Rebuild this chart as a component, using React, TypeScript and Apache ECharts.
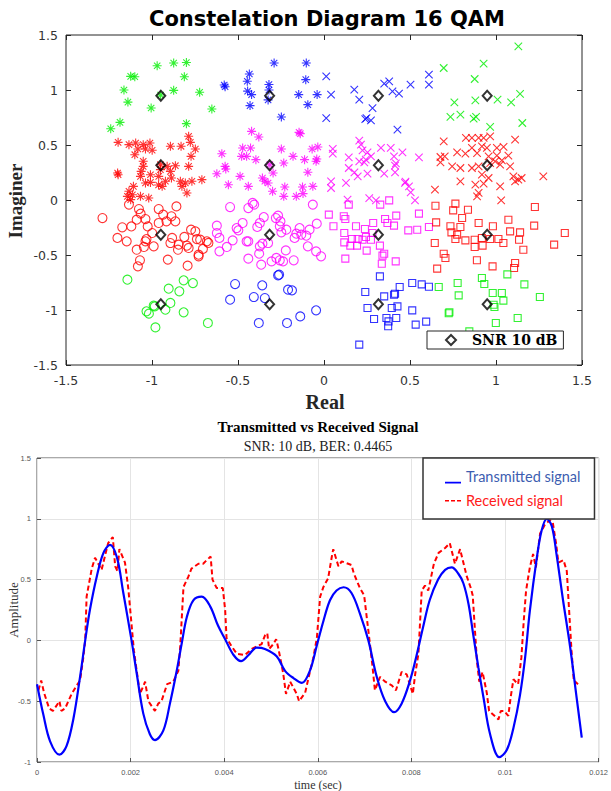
import React, { useEffect, useRef } from 'react';
import * as echarts from 'echarts';

// ---------- Constellation data (Real, Imaginary) ----------
const greenStar = [[-0.97,1.22],[-0.874,1.245],[-0.8,1.25],[-1.124,1.124],[-1.1,1.12],[-0.812,1.12],[-1.163,1.0],[-0.874,0.997],[-0.723,0.98],[-0.95,0.955],[-1.14,0.89],[-1.005,0.836],[-0.652,0.827],[-1.24,0.648],[-1.186,0.706],[-0.8,0.694]];
const blueStar = [[-0.29,1.245],[-0.103,1.245],[-0.434,1.145],[-0.58,1.045],[-0.575,1.03],[-0.446,1.08],[-0.444,0.99],[-0.421,0.958],[-0.32,1.05],[-0.32,1.0],[-0.325,0.91],[-0.106,1.094],[-0.147,0.958],[-0.04,0.958],[-0.094,0.867],[-0.43,0.858],[-0.248,0.755]];
const redStar = [[-1.197,0.524],[-1.134,0.503],[-1.095,0.518],[-1.051,0.503],[-1.012,0.518],[-1.082,0.464],[-1.038,0.464],[-0.999,0.452],[-1.1,0.412],[-0.893,0.488],[-0.831,0.488],[-0.787,0.579],[-0.777,0.524],[-0.748,0.464],[-0.773,0.397],[-1.051,0.352],[-1.051,0.306],[-0.951,0.321],[-0.912,0.306],[-0.864,0.312],[-0.787,0.306],[-1.2,0.245],[-1.197,0.23],[-1.063,0.26],[-1.067,0.215],[-1.009,0.23],[-0.961,0.215],[-0.951,0.276],[-0.893,0.26],[-0.922,0.17],[-0.941,0.124],[-1.038,0.155],[-1.009,0.16],[-0.835,0.17],[-0.806,0.155],[-0.768,0.17],[-0.71,0.185],[-0.826,0.124],[-0.797,0.064],[-1.134,0.079],[-1.143,0.033],[-1.114,0.048],[-1.067,0.033],[-1.019,0.018],[-1.124,0.003],[-1.108,0.124],[-0.962,0.136],[-0.887,0.2]];
const magentaStar = [[-0.421,0.624],[-0.379,0.573],[-0.145,0.615],[-0.138,0.603],[-0.594,0.421],[-0.473,0.473],[-0.427,0.473],[-0.479,0.397],[-0.45,0.397],[-0.396,0.367],[-0.248,0.464],[-0.18,0.397],[-0.113,0.367],[-0.069,0.464],[-0.036,0.482],[-0.042,0.373],[-0.046,0.352],[-0.575,0.306],[-0.571,0.282],[-0.623,0.239],[-0.488,0.215],[-0.315,0.321],[-0.296,0.245],[-0.358,0.2],[-0.344,0.17],[-0.325,0.155],[-0.234,0.336],[-0.094,0.252],[-0.556,0.139],[-0.44,0.124],[-0.299,0.079],[-0.234,0.033],[-0.228,0.118],[-0.161,0.033],[-0.125,0.118],[-0.065,0.124],[-0.122,0.058]];
const blueX = [[0.013,1.124],[0.041,0.958],[0.013,0.745],[0.176,1.003],[0.205,0.912],[0.282,0.836],[0.24,0.736],[0.247,0.745],[0.273,0.724],[0.35,1.058],[0.379,1.079],[0.398,0.988],[0.436,0.967],[0.503,1.048],[0.61,1.139],[0.61,1.048],[0.427,0.639]];
const greenX = [[1.13,1.397],[0.928,1.24],[0.876,1.1],[0.696,1.2],[0.758,0.888],[0.88,0.906],[1.009,0.912],[1.088,0.888],[1.14,0.964],[0.735,0.755],[0.793,0.776],[0.87,0.739],[0.884,0.755],[0.966,0.664],[1.153,0.7]];
const magentaX = [[0.051,0.464],[0.051,0.421],[0.144,0.388],[0.205,0.539],[0.215,0.503],[0.224,0.452],[0.253,0.433],[0.273,0.397],[0.331,0.473],[0.388,0.473],[0.456,0.433],[0.407,0.397],[0.552,0.388],[0.205,0.352],[0.234,0.342],[0.243,0.367],[0.144,0.291],[0.177,0.252],[0.196,0.215],[0.253,0.239],[0.35,0.239],[0.413,0.312],[0.413,0.252],[0.128,0.155],[0.041,0.17],[0.041,0.109],[0.471,0.155],[0.494,0.124],[0.504,0.07],[0.529,-0.003],[0.137,0.003],[0.263,0.018],[0.302,-0.003],[0.474,0.167],[0.418,0.333]];
const redX = [[0.696,0.533],[0.825,0.564],[0.86,0.564],[0.899,0.564],[0.928,0.564],[0.966,0.579],[1.111,0.548],[0.86,0.473],[0.918,0.488],[0.947,0.473],[1.005,0.473],[1.044,0.482],[0.774,0.433],[0.822,0.421],[0.677,0.391],[0.702,0.397],[0.677,0.342],[0.89,0.427],[0.957,0.397],[1.005,0.403],[1.072,0.403],[0.745,0.306],[0.793,0.291],[0.86,0.291],[0.899,0.306],[0.966,0.336],[0.995,0.352],[1.034,0.361],[1.024,0.321],[1.082,0.306],[0.918,0.23],[0.957,0.2],[0.793,0.17],[0.88,0.139],[0.928,0.148],[1.101,0.215],[1.111,0.17],[1.13,0.185],[1.149,0.2],[1.024,0.124],[1.275,0.215],[0.645,0.094],[0.899,0.064],[0.89,0.033],[1.03,-0.003]];
const redCircle = [[-1.288,-0.164],[-1.134,-0.042],[-1.076,-0.082],[-1.066,-0.124],[-1.089,-0.179],[-1.038,-0.173],[-1.025,-0.24],[-1.173,-0.248],[-1.12,-0.24],[-0.961,-0.082],[-0.935,-0.133],[-0.916,-0.194],[-0.961,-0.209],[-0.887,-0.148],[-0.864,-0.194],[-0.858,-0.058],[-1.201,-0.345],[-1.147,-0.376],[-1.089,-0.452],[-1.038,-0.376],[-1.047,-0.427],[-0.99,-0.421],[-0.893,-0.391],[-0.845,-0.406],[-0.883,-0.345],[-0.849,-0.452],[-0.797,-0.415],[-0.787,-0.436],[-0.812,-0.336],[-0.773,-0.27],[-0.748,-0.285],[-0.739,-0.355],[-0.72,-0.361],[-0.704,-0.445],[-0.729,-0.512],[-0.729,-0.497],[-0.681,-0.376],[-0.672,-0.39],[-0.908,-0.542],[-1.07,-0.548],[-1.082,-0.603],[-0.793,-0.597],[-0.999,-0.3],[-1.032,-0.355]];
const greenCircle = [[-1.143,-0.724],[-0.816,-0.73],[-0.762,-0.755],[-0.903,-0.806],[-0.841,-0.83],[-0.893,-0.936],[-0.984,-0.967],[-1.032,-1.012],[-1.018,-1.033],[-0.922,-0.997],[-0.816,-1.021],[-0.675,-1.118],[-0.98,-1.158],[-0.99,-0.96]];
const magentaCircle = [[-0.546,-0.064],[-0.44,-0.073],[-0.415,-0.027],[-0.406,-0.042],[-0.28,-0.164],[-0.35,-0.155],[-0.267,-0.142],[-0.253,-0.194],[-0.373,-0.209],[-0.388,-0.245],[-0.473,-0.209],[-0.508,-0.255],[-0.498,-0.276],[-0.623,-0.233],[-0.623,-0.3],[-0.608,-0.345],[-0.531,-0.367],[-0.45,-0.376],[-0.44,-0.376],[-0.565,-0.427],[-0.608,-0.467],[-0.358,-0.397],[-0.325,-0.391],[-0.373,-0.421],[-0.257,-0.239],[-0.248,-0.294],[-0.219,-0.27],[-0.222,-0.458],[-0.277,-0.527],[-0.257,-0.548],[-0.238,-0.558],[-0.305,-0.558],[-0.377,-0.488],[-0.44,-0.533],[-0.365,-0.588],[-0.176,-0.548],[-0.142,-0.255],[-0.132,-0.315],[-0.103,-0.324],[-0.084,-0.27],[-0.065,-0.042],[-0.042,-0.215],[-0.094,-0.421],[-0.046,-0.467],[-0.017,-0.512],[-0.171,-0.345],[-0.161,-0.306]];
const blueCircle = [[-0.517,-0.764],[-0.359,-0.776],[-0.267,-0.685],[-0.261,-0.679],[-0.209,-0.815],[-0.186,-0.821],[-0.546,-0.906],[-0.408,-0.882],[-0.344,-0.891],[-0.379,-1.118],[-0.215,-1.118],[-0.138,-1.058],[-0.046,-1.003]];
const magentaSquare = [[0.144,-0.042],[0.327,-0.042],[0.379,-0.003],[0.028,-0.133],[0.115,-0.148],[0.124,-0.173],[0.055,-0.239],[0.186,-0.239],[0.238,-0.264],[0.286,-0.209],[0.355,-0.173],[0.369,-0.209],[0.407,-0.233],[0.42,-0.142],[0.552,-0.124],[0.49,-0.276],[0.542,-0.27],[0.61,-0.245],[0.118,-0.3],[0.118,-0.385],[0.163,-0.355],[0.196,-0.355],[0.224,-0.361],[0.244,-0.336],[0.273,-0.361],[0.153,-0.415],[0.192,-0.415],[0.248,-0.46],[0.325,-0.415],[0.282,-0.3],[0.35,-0.488],[0.34,-0.506],[0.417,-0.558],[0.336,-0.579],[0.124,-0.533]];
const redSquare = [[0.648,-0.052],[0.764,-0.033],[0.837,-0.088],[0.751,-0.094],[0.803,-0.164],[0.652,-0.203],[0.735,-0.239],[0.793,-0.245],[0.899,-0.209],[0.982,-0.239],[1.072,-0.179],[1.226,-0.064],[1.222,-0.233],[0.741,-0.294],[0.774,-0.315],[0.764,-0.355],[0.822,-0.367],[0.876,-0.361],[0.918,-0.345],[0.966,-0.355],[1.014,-0.355],[1.082,-0.285],[1.14,-0.294],[1.134,-0.361],[1.043,-0.391],[0.876,-0.427],[0.922,-0.415],[1.159,-0.452],[1.4,-0.3],[1.338,-0.406],[0.644,-0.391],[0.696,-0.488],[0.706,-0.527],[0.889,-0.548],[0.98,-0.603],[0.658,-0.624],[1.111,-0.573],[1.105,-0.618]];
const blueSquare = [[0.325,-0.694],[0.24,-0.836],[0.35,-0.876],[0.407,-0.861],[0.413,-0.852],[0.44,-0.791],[0.513,-0.755],[0.568,-0.767],[0.61,-0.788],[0.253,-0.982],[0.394,-0.982],[0.427,-0.967],[0.513,-1.003],[0.291,-1.082],[0.363,-1.073],[0.375,-1.103],[0.42,-1.073],[0.373,-1.148],[0.533,-1.133],[0.594,-1.106],[0.205,-1.315]];
const greenSquare = [[0.667,-0.791],[0.777,-0.755],[0.918,-0.709],[0.932,-0.764],[1.066,-0.676],[1.165,-0.767],[0.783,-0.867],[0.981,-0.845],[1.034,-0.845],[1.043,-0.915],[1.255,-0.882],[0.986,-0.952],[0.991,-0.973],[0.729,-1.021],[0.725,-1.03],[0.999,-1.118],[1.126,-1.073],[0.845,-1.194]];
const idealPoints = [[-0.9487,0.9487],[-0.3162,0.9487],[0.3162,0.9487],[0.9487,0.9487],[-0.9487,0.3162],[-0.3162,0.3162],[0.3162,0.3162],[0.9487,0.3162],[-0.9487,-0.3162],[-0.3162,-0.3162],[0.3162,-0.3162],[0.9487,-0.3162],[-0.9487,-0.9487],[-0.3162,-0.9487],[0.3162,-0.9487],[0.9487,-0.9487]];

// ---------- Signal data (time in sec, amplitude) ----------
const transmittedSignal = [[0,-0.36],[0.000135,-0.61],[0.00028,-0.83],[0.00048,-0.94],[0.00063,-0.87],[0.00078,-0.64],[0.00092,-0.3],[0.00103,0.0],[0.00113,0.25],[0.00128,0.53],[0.00142,0.72],[0.00156,0.786],[0.00171,0.68],[0.00184,0.4],[0.00202,0.0],[0.00213,-0.27],[0.00227,-0.6],[0.00241,-0.77],[0.00252,-0.82],[0.0027,-0.74],[0.00284,-0.52],[0.00298,-0.26],[0.00309,-0.03],[0.0032,0.19],[0.00334,0.33],[0.00352,0.36],[0.0037,0.28],[0.00387,0.12],[0.00402,0.01],[0.0042,-0.12],[0.00436,-0.17],[0.00452,-0.12],[0.00469,-0.06],[0.00487,-0.07],[0.00512,-0.13],[0.0053,-0.25],[0.00548,-0.31],[0.00566,-0.35],[0.00583,-0.25],[0.00598,-0.04],[0.00612,0.16],[0.00626,0.33],[0.0064,0.41],[0.00655,0.437],[0.00672,0.39],[0.0069,0.22],[0.00708,0.0],[0.00726,-0.3],[0.00744,-0.5],[0.00763,-0.59],[0.00779,-0.52],[0.00797,-0.33],[0.0081,-0.14],[0.00825,0.11],[0.00839,0.33],[0.00857,0.5],[0.00872,0.58],[0.00886,0.6],[0.009,0.55],[0.00911,0.47],[0.00922,0.3],[0.00932,0.05],[0.00943,-0.22],[0.00954,-0.47],[0.00968,-0.77],[0.00988,-0.96],[0.01004,-0.9],[0.01018,-0.72],[0.01032,-0.45],[0.01043,-0.14],[0.01053,0.24],[0.01068,0.68],[0.01078,0.9],[0.01089,1.0],[0.011,0.94],[0.0111,0.71],[0.01124,0.33],[0.01139,-0.05],[0.01153,-0.47],[0.01164,-0.8]];
const receivedSignal = [[0.00003,-0.41],[0.00009,-0.33],[0.00015,-0.43],[0.00026,-0.56],[0.00034,-0.58],[0.00048,-0.5],[0.00052,-0.58],[0.0006,-0.56],[0.00074,-0.44],[0.00085,-0.37],[0.00092,-0.33],[0.00099,-0.14],[0.00103,0.0],[0.00106,0.36],[0.00117,0.59],[0.00124,0.68],[0.00138,0.58],[0.00145,0.69],[0.00152,0.8],[0.00162,0.85],[0.00167,0.61],[0.00172,0.57],[0.00176,0.75],[0.00188,0.64],[0.00195,0.43],[0.00207,-0.08],[0.00213,-0.25],[0.0022,-0.44],[0.00231,-0.34],[0.00238,-0.5],[0.00252,-0.58],[0.00259,-0.52],[0.00266,-0.5],[0.00278,-0.36],[0.00291,-0.34],[0.00302,-0.25],[0.00306,-0.05],[0.00313,0.44],[0.00323,0.52],[0.0033,0.59],[0.00345,0.63],[0.00355,0.63],[0.0036,0.65],[0.00371,0.69],[0.00375,0.5],[0.00384,0.43],[0.00397,0.43],[0.00402,0.25],[0.00405,0.02],[0.00416,-0.05],[0.00427,-0.11],[0.00444,-0.12],[0.00459,-0.07],[0.0048,-0.03],[0.00487,0.04],[0.00492,0.06],[0.00496,-0.07],[0.00505,-0.03],[0.00511,0.01],[0.00516,-0.07],[0.00526,-0.27],[0.00532,-0.44],[0.00541,-0.34],[0.00555,-0.44],[0.0056,-0.5],[0.00573,-0.43],[0.00583,-0.26],[0.0059,-0.15],[0.00598,0.02],[0.00605,0.36],[0.00612,0.44],[0.00622,0.51],[0.0063,0.69],[0.00633,0.75],[0.00644,0.61],[0.00651,0.65],[0.00665,0.63],[0.00672,0.62],[0.00677,0.55],[0.0069,0.43],[0.00699,0.37],[0.00712,-0.05],[0.00717,-0.22],[0.00722,-0.41],[0.00733,-0.3],[0.00744,-0.34],[0.00758,-0.37],[0.00767,-0.41],[0.00779,-0.26],[0.0079,-0.28],[0.00803,-0.44],[0.00808,-0.28],[0.00815,-0.11],[0.00822,0.41],[0.00829,0.45],[0.00836,0.41],[0.00848,0.63],[0.00858,0.72],[0.00872,0.76],[0.00882,0.8],[0.00893,0.63],[0.00904,0.75],[0.00918,0.53],[0.00927,0.43],[0.00931,0.37],[0.0094,-0.17],[0.00945,-0.34],[0.00952,-0.26],[0.00961,-0.43],[0.00966,-0.58],[0.00986,-0.65],[0.00991,-0.58],[0.00998,-0.58],[0.01007,-0.62],[0.01012,-0.47],[0.01018,-0.32],[0.01028,-0.36],[0.01035,-0.14],[0.0104,0.16],[0.01045,0.41],[0.01053,0.6],[0.0106,0.71],[0.01066,0.6],[0.01075,0.88],[0.01085,0.95],[0.01096,0.99],[0.01102,0.97],[0.01109,0.8],[0.01114,0.64],[0.01125,0.66],[0.01132,0.57],[0.01142,-0.08],[0.01147,-0.33],[0.01156,-0.36]];

const STAR = 'path://M5 0L5 10M0 5L10 5M1.46 1.46L8.54 8.54M8.54 1.46L1.46 8.54';
const CROSS = 'path://M0 0L10 10M10 0L0 10';
const LEG_SOLID = 'path://M0 0h0.05v0.05h-0.05zM0 12.2h16v1.8h-16z';
const LEG_DASH = 'path://M0 0h0.05v0.05h-0.05zM0 6.5h4v1.6h-4zM6 6.5h4v1.6h-4zM12 6.5h4v1.6h-4zM15.95 13.95h0.05v0.05h-0.05z';
const RED = '#ff0000', GREEN = '#00ee00', BLUE = '#0000ff', MAGENTA = '#ff00ff';

function sc(name: string, data: number[][], symbol: string, color: string, size: number) {
  return {
    type: 'scatter', name, xAxisIndex: 0, yAxisIndex: 0, data, symbol, symbolSize: size,
    itemStyle: { color: 'rgba(0,0,0,0)', borderColor: color, borderWidth: 1.1, opacity: 0.8 },
    silent: true, z: 2,
  };
}

const tickCommon = { inside: true, length: 5, lineStyle: { color: '#262626', width: 1 } };
const noLine = { show: false, onZero: false };

export default function App() {
  const ref = useRef<HTMLDivElement>(null);
  useEffect(() => {
    const chart = echarts.init(ref.current!, null, { renderer: 'svg' });
    const top = { min: -1.5, max: 1.5, interval: 0.5 };
    chart.setOption({
      animation: false,
      backgroundColor: '#ffffff',
      grid: [
        { left: 66, top: 35, width: 516, height: 330, show: true, borderColor: '#262626', borderWidth: 1, backgroundColor: 'transparent' },
        { left: 37, top: 458, width: 563, height: 304, show: true, borderColor: '#555555', borderWidth: 1, backgroundColor: 'transparent' },
      ],
      xAxis: [
        { gridIndex: 0, type: 'value', ...top, position: 'bottom', axisLine: noLine, axisTick: tickCommon, splitLine: { show: false },
          axisLabel: { color: '#333333', fontSize: 12.5, fontFamily: 'DejaVu Sans', margin: 9 } },
        { gridIndex: 0, type: 'value', ...top, position: 'top', axisLine: noLine, axisTick: tickCommon, splitLine: { show: false }, axisLabel: { show: false } },
        { gridIndex: 1, type: 'value', min: 0, max: 0.012, interval: 0.002, position: 'bottom', axisLine: noLine,
          axisTick: { inside: true, length: 4, lineStyle: { color: '#555555' } }, splitLine: { show: true, lineStyle: { color: '#e4e4e4', width: 1 } },
          axisLabel: { color: '#555555', fontSize: 7.5, fontFamily: 'Liberation Sans', margin: 6 } },
      ],
      yAxis: [
        { gridIndex: 0, type: 'value', ...top, position: 'left', axisLine: noLine, axisTick: tickCommon, splitLine: { show: false },
          axisLabel: { color: '#333333', fontSize: 12.5, fontFamily: 'DejaVu Sans', margin: 8 } },
        { gridIndex: 0, type: 'value', ...top, position: 'right', axisLine: noLine, axisTick: tickCommon, splitLine: { show: false }, axisLabel: { show: false } },
        { gridIndex: 1, type: 'value', min: -1, max: 1.5, interval: 0.5, position: 'left', axisLine: noLine,
          axisTick: { inside: true, length: 4, lineStyle: { color: '#555555' } }, splitLine: { show: true, lineStyle: { color: '#e4e4e4', width: 1 } },
          axisLabel: { color: '#555555', fontSize: 7.5, fontFamily: 'Liberation Sans', margin: 6 } },
      ],
      legend: [
        { data: ['SNR 10 dB'], left: 427, top: 331, orient: 'horizontal', icon: 'diamond', itemWidth: 10, itemHeight: 10,
          padding: [2, 6, 2, 18], backgroundColor: '#ffffff', borderColor: '#262626', borderWidth: 1, borderRadius: 0,
          textStyle: { fontFamily: 'DejaVu Serif', fontWeight: 'bold', fontSize: 14, color: '#000000', padding: [0, 0, 0, 11] } },
        { data: [
            { name: 'Transmitted signal', icon: LEG_SOLID, textStyle: { color: '#3c5db0' } },
            { name: 'Received signal', icon: LEG_DASH, textStyle: { color: '#ff1a1a' } },
          ],
          left: 423, top: 458, orient: 'vertical', itemWidth: 16, itemHeight: 14, itemGap: 9,
          padding: [11, 14, 11, 22], backgroundColor: '#ffffff', borderColor: '#333333', borderWidth: 1.5, borderRadius: 0,
          textStyle: { fontFamily: 'Lato', fontSize: 14.5 } },
      ],
      graphic: [
        { type: 'text', x: 327, y: 19, style: { text: 'Constelation Diagram 16 QAM', fontFamily: 'DejaVu Sans', fontWeight: 'bold', fontSize: 21, fill: '#000', textAlign: 'center', textVerticalAlign: 'middle' } },
        { type: 'text', x: 15, y: 201, rotation: Math.PI / 2, style: { text: 'Imaginer', fontFamily: 'Liberation Serif', fontWeight: 'bold', fontSize: 19, fill: '#262626', textAlign: 'center', textVerticalAlign: 'middle' } },
        { type: 'text', x: 325, y: 402, style: { text: 'Real', fontFamily: 'Liberation Serif', fontWeight: 'bold', fontSize: 20, fill: '#262626', textAlign: 'center', textVerticalAlign: 'middle' } },
        { type: 'text', x: 318, y: 427, style: { text: 'Transmitted vs Received Signal', fontFamily: 'Liberation Serif', fontWeight: 'bold', fontSize: 15, fill: '#000', textAlign: 'center', textVerticalAlign: 'middle' } },
        { type: 'text', x: 318, y: 446, style: { text: 'SNR: 10 dB, BER: 0.4465', fontFamily: 'Liberation Serif', fontSize: 14, fill: '#222', textAlign: 'center', textVerticalAlign: 'middle' } },
        { type: 'text', x: 13, y: 610, rotation: Math.PI / 2, style: { text: 'Amplitude', fontFamily: 'Liberation Serif', fontSize: 13, fill: '#333', textAlign: 'center', textVerticalAlign: 'middle' } },
        { type: 'text', x: 318, y: 785, style: { text: 'time (sec)', fontFamily: 'Liberation Serif', fontSize: 12, fill: '#333', textAlign: 'center', textVerticalAlign: 'middle' } },
      ],
      series: [
        sc('gs', greenStar, STAR, GREEN, 9),
        sc('bs', blueStar, STAR, BLUE, 9),
        sc('rs', redStar, STAR, RED, 9),
        sc('ms', magentaStar, STAR, MAGENTA, 9),
        sc('bx', blueX, CROSS, BLUE, 7.5),
        sc('gx', greenX, CROSS, GREEN, 7.5),
        sc('mx', magentaX, CROSS, MAGENTA, 7.5),
        sc('rx', redX, CROSS, RED, 7.5),
        sc('rc', redCircle, 'circle', RED, 9),
        sc('gc', greenCircle, 'circle', GREEN, 9),
        sc('mc', magentaCircle, 'circle', MAGENTA, 9),
        sc('bc', blueCircle, 'circle', BLUE, 9),
        sc('msq', magentaSquare, 'rect', MAGENTA, 7),
        sc('rsq', redSquare, 'rect', RED, 7),
        sc('bsq', blueSquare, 'rect', BLUE, 7),
        sc('gsq', greenSquare, 'rect', GREEN, 7),
        { type: 'scatter', name: 'SNR 10 dB', xAxisIndex: 0, yAxisIndex: 0, data: idealPoints, symbol: 'diamond', symbolSize: [9, 10],
          itemStyle: { color: 'rgba(0,0,0,0)', borderColor: '#000000', borderWidth: 2 }, z: 5, silent: true },
        { type: 'line', name: 'Transmitted signal', xAxisIndex: 2, yAxisIndex: 2, data: transmittedSignal, symbol: 'none', smooth: 0.35,
          lineStyle: { color: '#0000ff', width: 2.2 }, itemStyle: { color: '#0000ff' }, z: 3, silent: true },
        { type: 'line', name: 'Received signal', xAxisIndex: 2, yAxisIndex: 2, data: receivedSignal, symbol: 'none',
          lineStyle: { color: '#ff0000', width: 2, type: [5, 3] }, itemStyle: { color: '#ff0000' }, z: 2, silent: true },
      ],
    });
    return () => chart.dispose();
  }, []);
  return <div ref={ref} style={{ position: 'absolute', left: 0, top: 0, width: 611, height: 791, background: '#fff' }} />;
}
